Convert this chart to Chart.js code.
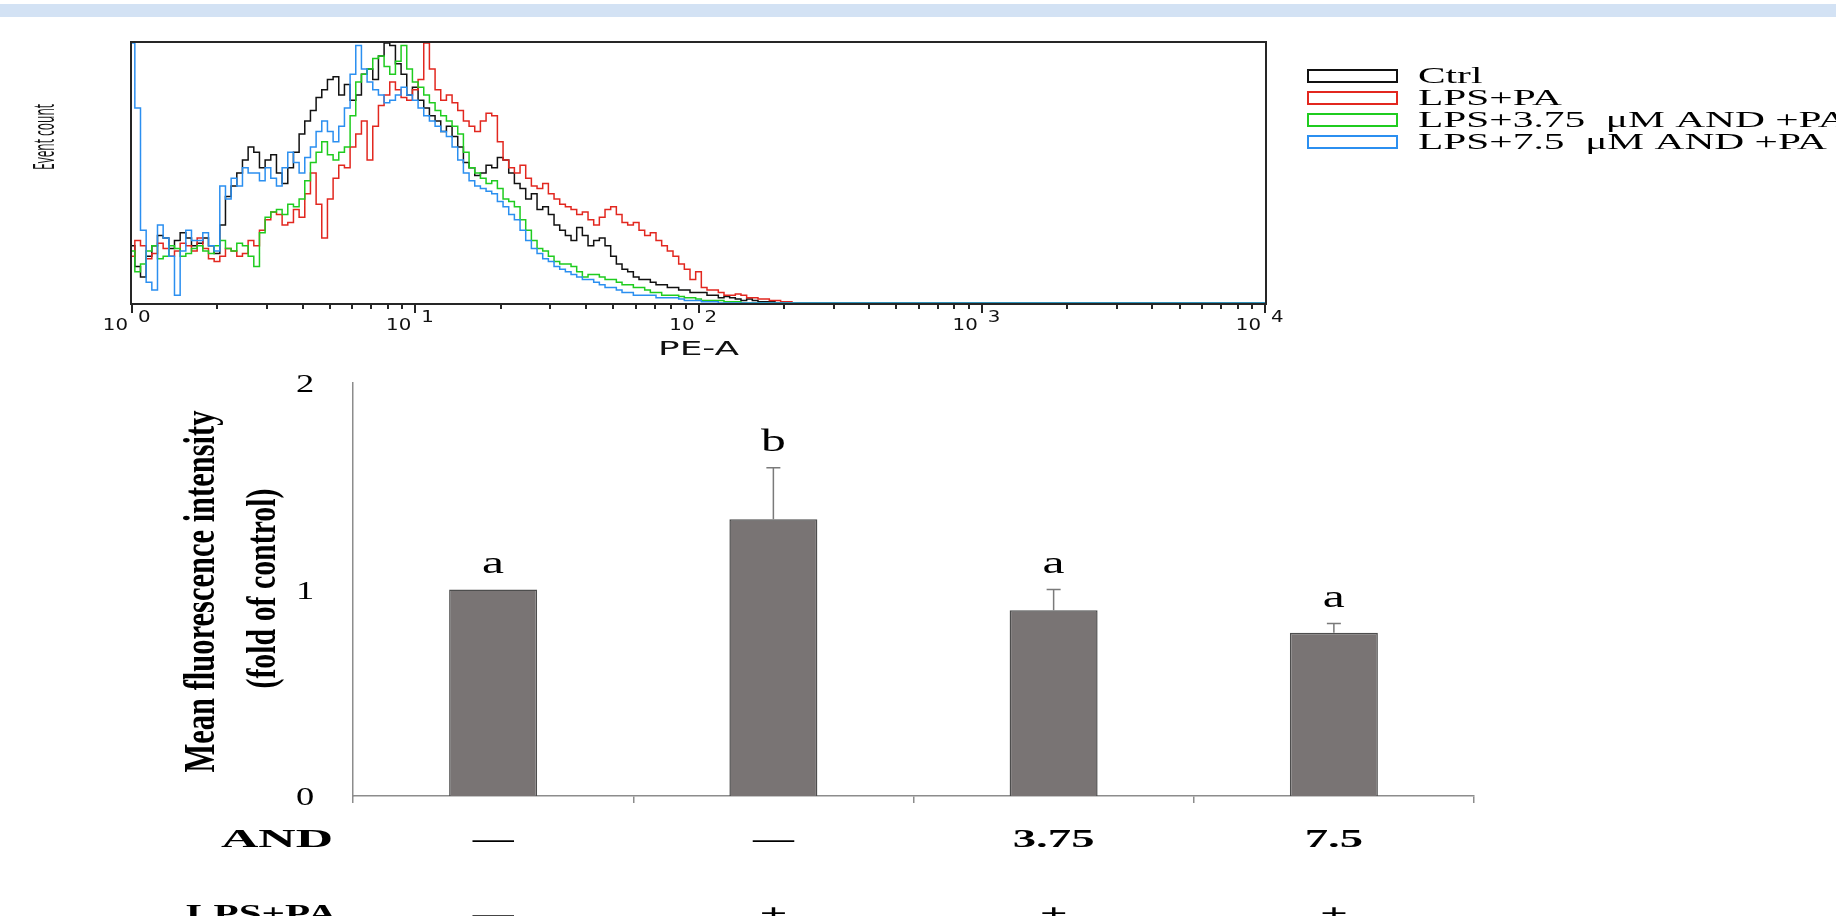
<!DOCTYPE html>
<html><head><meta charset="utf-8">
<script src="https://cdn.jsdelivr.net/npm/chart.js@4.4.1/dist/chart.umd.min.js"></script>
<style>
html,body{margin:0;padding:0;background:#fff;}
#wrap{position:relative;width:1836px;height:916px;overflow:hidden;background:#fff;}
canvas{position:absolute;left:0;top:0;}
</style></head><body>
<div id="wrap"><canvas id="hist" width="1836" height="916"></canvas><canvas id="bars" width="1836" height="916"></canvas></div>
<script>
// ---------- Histogram data (x = PE-A in log10 decades, y = relative event count) ----------
const histBins = [0.00,0.02,0.04,0.06,0.08,0.10,0.12,0.14,0.16,0.18,0.20,0.22,0.24,0.26,0.28,0.30,0.32,0.34,0.36,0.38,
0.40,0.42,0.44,0.46,0.48,0.50,0.52,0.54,0.56,0.58,0.60,0.62,0.64,0.66,0.68,0.70,0.72,0.74,0.76,0.78,
0.80,0.82,0.84,0.86,0.88,0.90,0.92,0.94,0.96,0.98,1.00,1.02,1.04,1.06,1.08,1.10,1.12,1.14,1.16,1.18,
1.20,1.22,1.24,1.26,1.28,1.30,1.32,1.34,1.36,1.38,1.40,1.42,1.44,1.46,1.48,1.50,1.52,1.54,1.56,1.58,
1.60,1.62,1.64,1.66,1.68,1.70,1.72,1.74,1.76,1.78,1.80,1.82,1.84,1.86,1.88,1.90,1.92,1.94,1.96,1.98,
2.00,2.02,2.04,2.06,2.08,2.10,2.12,2.14,2.16,2.18,2.20,2.22,2.24,2.26,2.28,2.30,2.32,2.34,2.36,2.38,
2.40,3.00,4.00];
const ctrlCounts = [22,14,10,18,22,26,25,21,24,27,25,22,23,25,22,19,30,41,45,50,
55,60,58,52,55,57,50,46,52,58,65,70,74,79,82,86,87,80,84,78,
80,88,90,86,95,100,99,92,88,80,83,78,75,72,70,66,68,64,60,54,
52,49,50,53,52,56,55,50,46,44,40,42,36,37,34,30,28,26,24,29,
26,22,24,25,22,18,15,13,12,10,9,9,8,7,7,6,6,5,5,4,
4,4,3,3,2,2.5,2,1.5,1,1.5,1,0.5,0.5,0.5,0,0,0,0,0,0,
0,0,0];
const lpsPaCounts = [18,24,22,17,19,23,21,18,20,23,22,20,25,21,17,16,18,21,20,18,
19,24,22,28,32,35,34,30,31,36,33,42,50,38,25,40,48,53,52,60,
65,70,55,68,76,80,85,82,79,78,82,86,100,90,82,78,80,77,74,70,
68,66,70,73,72,62,55,52,50,53,48,45,44,46,42,40,38,37,36,34,
35,32,30,33,36,37,34,31,30,31,28,26,27,24,22,20,18,15,13,9,
12,6,5,5,4,3,3,3.5,3,2,2,1.5,1.5,1,1,0.5,0.5,0,0,0,
0,0,0];
const and375Counts = [20,12,15,20,22,17,18,22,21,18,19,21,22,20,19,22,24,21,20,23,
22,18,14,27,33,35,36,34,38,37,40,47,54,58,62,57,55,58,60,72,
85,88,90,94,95,91,88,93,99,90,85,83,80,77,74,72,70,68,65,58,
52,50,48,46,47,44,40,39,37,32,28,24,21,20,18,16,15,15,14,12,
10,11,11,10,9,9,8,7,7,6,6,5,4,4,3,3,3,2.5,2,2,
1.5,1,1,1,1,0.5,0.5,0.5,0,0,0,0,0,0,0,0,0,0,0,0,
0,0,0];
const and75Counts = [100,75,28,8,5,30,25,18,3,20,28,24,24,27,22,20,45,40,48,45,
52,50,50,47,52,48,45,52,58,54,50,56,60,66,70,66,62,68,75,88,
99,90,85,82,80,77,78,80,83,80,78,75,72,70,68,66,64,60,55,50,
47,45,44,43,42,39,37,34,32,28,24,21,19,17,16,14,13,12,11,10,
9,9,8,7,6,6,5,4,4,3,3,3,3,2,2,2,2,1.5,1,1,
1,0.5,0.5,0.5,0,0,0,0,0,0,0,0,0,0,0,0,0,0,0,0,
0,0,0];
const histLabels = ['Ctrl','LPS+PA','LPS+3.75  μM AND +PA','LPS+7.5  μM AND +PA'];
const histColors = ['#111111','#e2271f','#1fcc1f','#2b8ff0'];
const decadeTicks = [0,1,2,3,4];
const decadeLabels = ['0','1','2','3','4'];

// ---------- Bar chart data ----------
const groupLabels = ['Ctrl','LPS+PA','LPS+3.75 μM AND +PA','LPS+7.5 μM AND +PA'];
const andRow = ['—','—','3.75','7.5'];
const lpsRow = ['—','+','+','+'];
const mfiMeans = [1.00, 1.34, 0.90, 0.79];
const mfiErrors = [0, 0.25, 0.10, 0.045];
const sigLetters = ['a','b','a','a'];
const mfiTicks = [0, 1, 2];

const SERIF = '"Liberation Serif", "Times New Roman", serif';
const SANS = '"DejaVu Sans", Verdana, sans-serif';

function fitText(ctx, text, x, y, o) {
  ctx.save();
  ctx.font = (o.weight || 'normal') + ' ' + o.size + 'px ' + o.family;
  const mw = ctx.measureText(text).width;
  const sAlong = o.width ? o.width / mw : (o.sx || 1);
  ctx.translate(x, y);
  if (o.rot) ctx.rotate(-Math.PI / 2);
  ctx.scale(sAlong, o.across || 1);
  ctx.textAlign = o.align || 'left';
  ctx.textBaseline = 'alphabetic';
  ctx.fillStyle = o.color || '#000';
  ctx.fillText(text, 0, 0);
  ctx.restore();
}

const minorTicks = [];
for (let d = 0; d < 4; d++) for (let k = 2; k <= 9; k++) minorTicks.push(d + Math.log10(k));

const histDecor = {
  id: 'histDecor',
  beforeDraw(chart) {
    const ctx = chart.ctx;
    ctx.save();
    ctx.fillStyle = '#d3e2f4';
    ctx.fillRect(0, 4, chart.width, 13);
    ctx.restore();
  },
  afterDatasetsDraw(chart) {
    const ctx = chart.ctx, a = chart.chartArea;
    ctx.save();
    ctx.strokeStyle = '#262626';
    ctx.lineWidth = 2;
    ctx.strokeRect(a.left - 1, a.top - 1, a.right - a.left + 2, a.bottom - a.top + 2);
    ctx.restore();
  },
  afterDraw(chart) {
    const ctx = chart.ctx, xs = chart.scales.x, a = chart.chartArea;
    decadeTicks.forEach((v, i) => {
      const px = xs.getPixelForValue(v);
      fitText(ctx, '10', px - 4, 330, {size: 15, family: SANS, sx: 1.32, align: 'right', color: '#111'});
      fitText(ctx, decadeLabels[i], px + 6, 322, {size: 15, family: SANS, sx: 1.32, align: 'left', color: '#111'});
    });
    fitText(ctx, 'PE-A', xs.getPixelForValue(2), 355, {size: 19, family: SANS, width: 81, align: 'center', color: '#111'});
    fitText(ctx, 'Event count', 54, (a.top + a.bottom) / 2 - 36, {size: 15, family: '"Open Sans", sans-serif', width: 66, across: 2.0, align: 'center', rot: true, color: '#111'});
    // legend
    const rows = [76, 98, 120, 142];
    histLabels.forEach((lab, i) => {
      ctx.save();
      ctx.strokeStyle = histColors[i];
      ctx.lineWidth = 2;
      ctx.strokeRect(1308, rows[i] - 6, 89, 12);
      ctx.restore();
      fitText(ctx, lab, 1418, rows[i] + 7, {size: 23, family: SERIF, sx: 1.8, align: 'left'});
    });
  }
};

new Chart(document.getElementById('hist'), {
  type: 'line',
  data: {
    datasets: [ctrlCounts, lpsPaCounts, and375Counts, and75Counts].map((arr, i) => ({
      label: groupLabels[i],
      data: histBins.map((b, j) => ({x: b, y: arr[j]})),
      borderColor: histColors[i],
      borderWidth: 1.5,
      pointRadius: 0,
      stepped: 'middle',
      fill: false,
      order: [3, 2, 1, 0][i]
    }))
  },
  options: {
    responsive: false, animation: false, devicePixelRatio: 1,
    layout: {padding: {left: 132, top: 43, right: 1836 - 1265, bottom: 916 - 303}},
    plugins: {legend: {display: false}, tooltip: {enabled: false}},
    scales: {
      x: {type: 'linear', min: 0, max: 4, position: 'bottom',
        afterBuildTicks: s => { s.ticks = decadeTicks.map(v => ({value: v})); },
        afterFit: s => { s.height = 0; },
        grid: {drawOnChartArea: false, drawTicks: true, tickLength: 10, color: '#262626', lineWidth: 2},
        border: {display: false}, ticks: {display: false}},
      xMinor: {type: 'linear', axis: 'x', min: 0, max: 4, position: 'bottom',
        afterBuildTicks: s => { s.ticks = minorTicks.map(v => ({value: v})); },
        afterFit: s => { s.height = 0; },
        grid: {drawOnChartArea: false, drawTicks: true, tickLength: 6, color: '#262626', lineWidth: 2},
        border: {display: false}, ticks: {display: false}},
      y: {min: 0, max: 100, display: false}
    }
  },
  plugins: [histDecor]
});

// ---------- Bar chart ----------
const barDecor = {
  id: 'barDecor',
  afterDatasetsDraw(chart) {
    const ctx = chart.ctx, ys = chart.scales.y, meta = chart.getDatasetMeta(0);
    meta.data.forEach((bar, i) => {
      const x = bar.x;
      const top = ys.getPixelForValue(mfiMeans[i] + mfiErrors[i]);
      const base = ys.getPixelForValue(mfiMeans[i]);
      if (mfiErrors[i] > 0) {
        ctx.save();
        ctx.strokeStyle = '#7a7a7a';
        ctx.lineWidth = 1.5;
        ctx.beginPath();
        ctx.moveTo(x, base); ctx.lineTo(x, top);
        ctx.moveTo(x - 7, top); ctx.lineTo(x + 7, top);
        ctx.stroke();
        ctx.restore();
      }
      fitText(ctx, sigLetters[i], x, top - 17, {size: 31, family: SERIF, sx: 1.6, align: 'center'});
      fitText(ctx, andRow[i], x, 847, andRow[i] === '—'
        ? {size: 26, family: SERIF, weight: 'bold', width: 41, align: 'center'}
        : {size: 26, family: SERIF, weight: 'bold', sx: 1.8, align: 'center'});
      fitText(ctx, lpsRow[i], x, 922, lpsRow[i] === '—'
        ? {size: 26, family: SERIF, weight: 'bold', width: 41, align: 'center'}
        : {size: 26, family: SERIF, weight: 'bold', width: 28, align: 'center'});
    });
    mfiTicks.forEach(v => {
      fitText(ctx, String(v), 305, ys.getPixelForValue(v) + 9, {size: 26, family: SERIF, sx: 1.4, align: 'center'});
    });
    const cy = (ys.top + ys.bottom) / 2;
    fitText(ctx, 'Mean fluorescence intensity', 214, cy + 2, {size: 30, family: SERIF, weight: 'bold', width: 362, across: 1.45, align: 'center', rot: true});
    fitText(ctx, '(fold of control)', 275, cy - 1, {size: 30, family: SERIF, weight: 'bold', width: 200, across: 1.4, align: 'center', rot: true});
    fitText(ctx, 'AND', 333, 847, {size: 26, family: SERIF, weight: 'bold', width: 112, align: 'right'});
    fitText(ctx, 'LPS+PA', 337, 922, {size: 26, family: SERIF, weight: 'bold', width: 151, align: 'right'});
  }
};

new Chart(document.getElementById('bars'), {
  type: 'bar',
  data: {
    labels: groupLabels,
    datasets: [{
      label: 'Mean fluorescence intensity',
      data: mfiMeans,
      backgroundColor: '#797474',
      borderColor: '#4d4d4d',
      borderWidth: 1.5,
      barPercentage: 0.314,
      categoryPercentage: 1
    }]
  },
  options: {
    responsive: false, animation: false, devicePixelRatio: 1,
    layout: {padding: {left: 353, top: 383, right: 1836 - 1474, bottom: 916 - 796}},
    plugins: {legend: {display: false}, tooltip: {enabled: false}},
    scales: {
      x: {type: 'category', offset: true,
        afterFit: s => { s.height = 0; },
        grid: {display: true, drawOnChartArea: false, offset: true, tickLength: 7, color: '#8c8c8c', lineWidth: 1.5},
        border: {display: true, color: '#8c8c8c', width: 1.5},
        ticks: {display: false}},
      y: {min: 0, max: 2,
        afterFit: s => { s.width = 0; },
        grid: {display: false},
        border: {display: true, color: '#8c8c8c', width: 1.5},
        ticks: {display: false}}
    }
  },
  plugins: [barDecor]
});
</script>
</body></html>
